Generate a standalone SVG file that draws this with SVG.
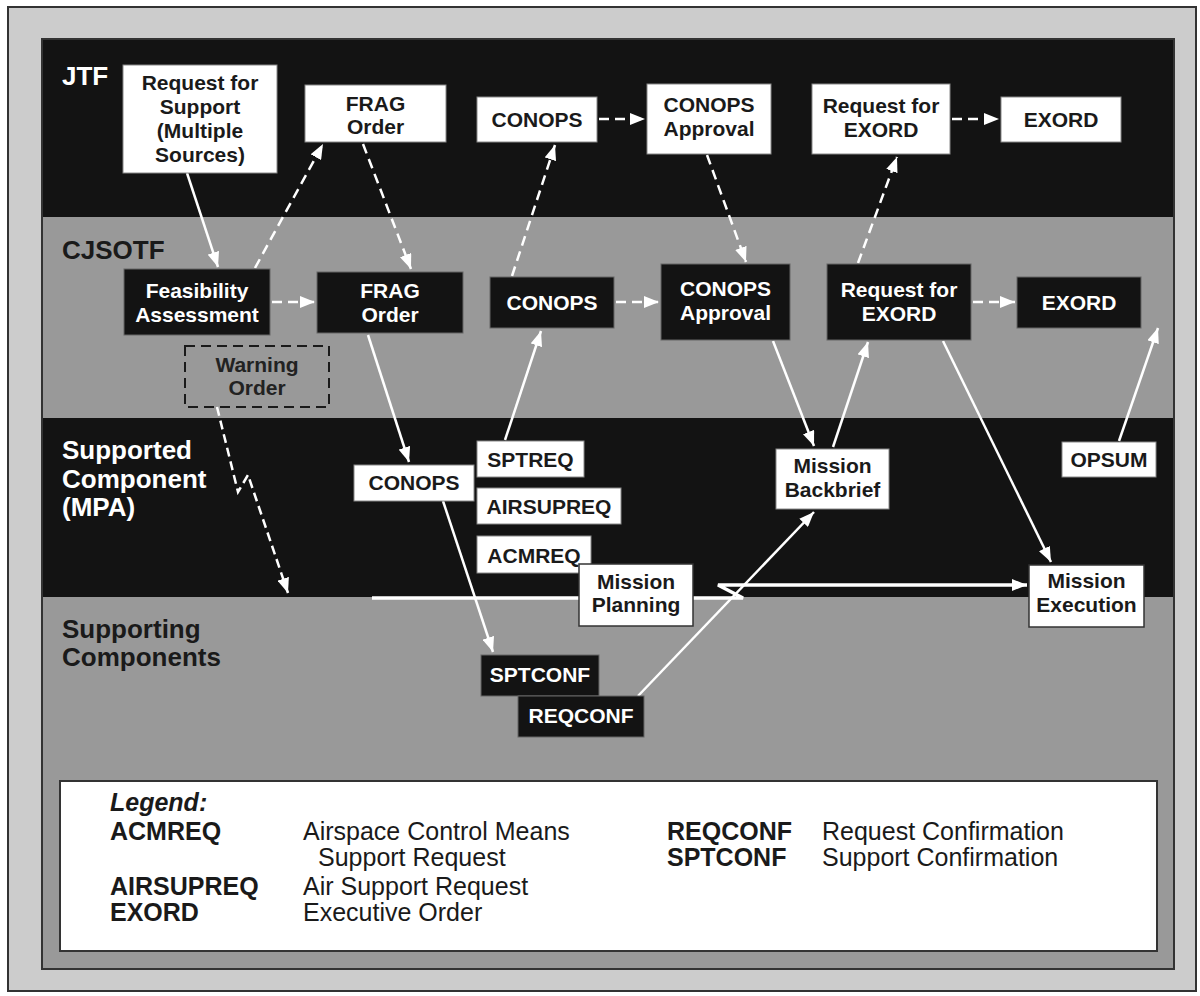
<svg xmlns="http://www.w3.org/2000/svg" width="1200" height="996" viewBox="0 0 1200 996">
<style>
.wb{fill:#fff;stroke:#888;stroke-width:1}
.bb{fill:#131313;stroke:#666;stroke-width:1}
.tb{font-family:"Liberation Sans",Arial,sans-serif;font-weight:bold;font-size:21px;text-anchor:middle}
.dk{fill:#1a1a1a}
.wt{fill:#fff}
.lab{font-family:"Liberation Sans",Arial,sans-serif;font-weight:bold;font-size:26px}
.lg{font-family:"Liberation Sans",Arial,sans-serif;font-size:25px;fill:#1a1a1a}
.lgb{font-family:"Liberation Sans",Arial,sans-serif;font-size:25px;font-weight:bold;fill:#1a1a1a}
.s{fill:none;stroke:#fff;stroke-width:2.5;marker-end:url(#ah)}
.d{fill:none;stroke:#fff;stroke-width:2.5;stroke-dasharray:10 6;marker-end:url(#ah)}
</style>
<defs>
<marker id="ah" markerUnits="userSpaceOnUse" markerWidth="16" markerHeight="12" refX="15" refY="6" orient="auto">
<path d="M0,0 L15,6 L0,12 z" fill="#fff"/>
</marker>
</defs>
<rect x="8" y="7" width="1188" height="984" fill="#cccccc" stroke="#333" stroke-width="2"/>
<g id="bands">
<rect x="42" y="39" width="1132" height="930" fill="#999999" stroke="#333" stroke-width="2"/>
<rect x="43" y="40" width="1130" height="177" fill="#131313"/>
<rect x="43" y="418" width="1130" height="179" fill="#131313"/>
<text class="lab wt" x="62" y="85">JTF</text>
<text class="lab dk" x="62" y="259">CJSOTF</text>
<text class="lab wt" x="62" y="459">Supported</text>
<text class="lab wt" x="62" y="488">Component</text>
<text class="lab wt" x="62" y="516">(MPA)</text>
<text class="lab dk" x="62" y="638">Supporting</text>
<text class="lab dk" x="62" y="666">Components</text>
</g>
<g id="connectors">
<path class="s" d="M187,173 L218,267"/>
<path class="d" d="M255,268 L323,144"/>
<path class="d" d="M363,144 L411,269"/>
<path class="s" d="M368,335 L409,462"/>
<path class="s" d="M505,440 L541,331"/>
<path class="d" d="M512,276 L555,145"/>
<path class="d" d="M707,155 L746,262"/>
<path class="s" d="M773,341 L814,446"/>
<path class="s" d="M833,447 L868,342"/>
<path class="d" d="M858,263 L897,157"/>
<path class="s" d="M943,341 L1051,562"/>
<path class="s" d="M1119,441 L1158,328"/>
<path class="s" d="M443,501 L493,652"/>
<path class="s" d="M638,696 L814,512"/>
<path class="d" d="M599,119 L645,119"/>
<path class="d" d="M952,119 L999,119"/>
<path class="d" d="M272,302 L315,302"/>
<path class="d" d="M616,302 L659,302"/>
<path class="d" d="M973,302 L1015,302"/>
<path fill="none" stroke="#fff" stroke-width="2.5" stroke-dasharray="9 5" marker-end="url(#ah)" d="M217,407 L238,492 L248,475 L288,593"/>
<path fill="none" stroke="#fff" stroke-width="3.5" marker-end="url(#ah)" d="M372,598 L743,598 L718,585 L1027,585"/>
</g>
<g id="n-rfs"><rect class="wb" x="123" y="65" width="154" height="108"/>
<text class="tb dk" x="200" y="90">Request for</text><text class="tb dk" x="200" y="114">Support</text><text class="tb dk" x="200" y="138">(Multiple</text><text class="tb dk" x="200" y="162">Sources)</text></g>
<g id="n-jtf-frag"><rect class="wb" x="305" y="85" width="141" height="57"/>
<text class="tb dk" x="375.5" y="111">FRAG</text><text class="tb dk" x="375.5" y="134">Order</text></g>
<g id="n-jtf-conops"><rect class="wb" x="477" y="97" width="120" height="45"/>
<text class="tb dk" x="537" y="127">CONOPS</text></g>
<g id="n-jtf-appr"><rect class="wb" x="647" y="84" width="124" height="70"/>
<text class="tb dk" x="709" y="112">CONOPS</text><text class="tb dk" x="709" y="136">Approval</text></g>
<g id="n-jtf-req"><rect class="wb" x="812" y="84" width="138" height="70"/>
<text class="tb dk" x="881" y="113">Request for</text><text class="tb dk" x="881" y="137">EXORD</text></g>
<g id="n-jtf-exord"><rect class="wb" x="1001" y="97" width="120" height="45"/>
<text class="tb dk" x="1061" y="127">EXORD</text></g>
<g id="n-feas"><rect class="bb" x="124" y="269" width="146" height="66"/>
<text class="tb wt" x="197" y="298">Feasibility</text><text class="tb wt" x="197" y="322">Assessment</text></g>
<g id="n-cj-frag"><rect class="bb" x="317" y="272" width="146" height="61"/>
<text class="tb wt" x="390" y="298">FRAG</text><text class="tb wt" x="390" y="322">Order</text></g>
<g id="n-cj-conops"><rect class="bb" x="490" y="277" width="124" height="51"/>
<text class="tb wt" x="552" y="310">CONOPS</text></g>
<g id="n-cj-appr"><rect class="bb" x="661" y="264" width="129" height="76"/>
<text class="tb wt" x="725.5" y="296">CONOPS</text><text class="tb wt" x="725.5" y="320">Approval</text></g>
<g id="n-cj-req"><rect class="bb" x="827" y="264" width="144" height="76"/>
<text class="tb wt" x="899" y="297">Request for</text><text class="tb wt" x="899" y="321">EXORD</text></g>
<g id="n-cj-exord"><rect class="bb" x="1017" y="277" width="124" height="51"/>
<text class="tb wt" x="1079" y="310">EXORD</text></g>
<g id="n-warn"><rect x="185" y="346" width="144" height="61" fill="none" stroke="#1a1a1a" stroke-width="2" stroke-dasharray="10 6"/>
<text class="tb" fill="#222" x="257" y="372">Warning</text><text class="tb" fill="#222" x="257" y="395">Order</text></g>
<g id="n-mpa-conops"><rect class="wb" x="354" y="465" width="120" height="36"/>
<text class="tb dk" x="414" y="490">CONOPS</text></g>
<g id="n-sptreq"><rect class="wb" x="477" y="441" width="107" height="36"/>
<text class="tb dk" x="530.5" y="467">SPTREQ</text></g>
<g id="n-airsupreq"><rect class="wb" x="477" y="488" width="144" height="36"/>
<text class="tb dk" x="549" y="514">AIRSUPREQ</text></g>
<g id="n-acmreq"><rect class="wb" x="477" y="536" width="114" height="37"/>
<text class="tb dk" x="534" y="563">ACMREQ</text></g>
<g id="n-mplan"><rect x="579" y="564" width="114" height="62" fill="#fff" stroke="#333" stroke-width="1.5"/>
<text class="tb dk" x="636" y="589">Mission</text><text class="tb dk" x="636" y="612">Planning</text></g>
<g id="n-backbrief"><rect class="wb" x="776" y="449" width="113" height="60"/>
<text class="tb dk" x="832.5" y="473">Mission</text><text class="tb dk" x="832.5" y="497">Backbrief</text></g>
<g id="n-opsum"><rect class="wb" x="1062" y="442" width="94" height="35"/>
<text class="tb dk" x="1109" y="467">OPSUM</text></g>
<g id="n-mexec"><rect x="1029" y="565" width="115" height="62" fill="#fff" stroke="#333" stroke-width="1.5"/>
<text class="tb dk" x="1086.5" y="588">Mission</text><text class="tb dk" x="1086.5" y="612">Execution</text></g>
<g id="n-sptconf"><rect class="bb" x="481" y="655" width="118" height="41"/>
<text class="tb wt" x="540" y="682">SPTCONF</text></g>
<g id="n-reqconf"><rect class="bb" x="518" y="696" width="126" height="41"/>
<text class="tb wt" x="581" y="723">REQCONF</text></g>
<g id="legend">
<rect x="60" y="781" width="1097" height="170" fill="#fff" stroke="#333" stroke-width="2"/>
<text class="lgb" x="110" y="811" font-style="italic">Legend:</text>
<text class="lgb" x="110" y="840">ACMREQ</text>
<text class="lg" x="303" y="840">Airspace Control Means</text>
<text class="lg" x="318" y="866">Support Request</text>
<text class="lgb" x="110" y="895">AIRSUPREQ</text>
<text class="lg" x="303" y="895">Air Support Request</text>
<text class="lgb" x="110" y="921">EXORD</text>
<text class="lg" x="303" y="921">Executive Order</text>
<text class="lgb" x="667" y="840">REQCONF</text>
<text class="lg" x="822" y="840">Request Confirmation</text>
<text class="lgb" x="667" y="866">SPTCONF</text>
<text class="lg" x="822" y="866">Support Confirmation</text>
</g>
</svg>
